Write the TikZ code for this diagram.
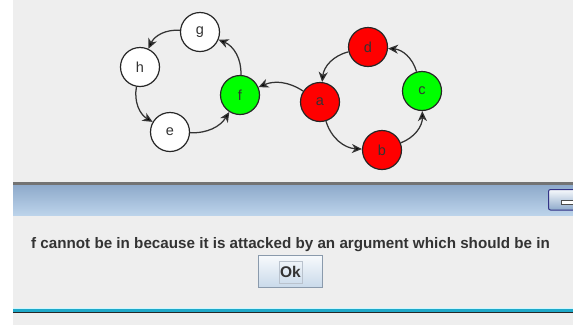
\documentclass[tikz,border=0pt]{standalone}
\usepackage{fontspec}
\setmainfont{Liberation Sans}
\usepackage{xcolor}
\usetikzlibrary{arrows.meta, shapes}
\definecolor{panelgray}{HTML}{EEEEEE}
\definecolor{bartop}{HTML}{8EAACB}
\definecolor{barbottom}{HTML}{BCD3EA}
\definecolor{btnedge}{HTML}{8A9AAC}
\definecolor{btntop}{HTML}{F7F9FC}
\definecolor{btnbottom}{HTML}{C9D9EA}
\definecolor{msgtext}{HTML}{333333}
\definecolor{seacyan}{HTML}{1EA8C8}
\tikzset{
    arg/.style={
        circle,
        draw=black!85,
        line width=1.2pt,
        fill=white,
        minimum size=39pt,
        inner sep=0pt,
        text=black!80,
        font=\fontsize{14.5}{16}\selectfont,
    },
    argin/.style={
        arg,
        fill=green,
    },
    argout/.style={
        arg,
        fill=red,
    },
}

\begin{document}
\begin{tikzpicture}[x=1pt, y=-1pt, >={Stealth[length=10pt, width=9pt, inset=3pt]}, line width=1.25pt]
      \useasboundingbox (0,0) rectangle (573,325);
      \clip (0,0) rectangle (573,325);
      % window background
      \fill[white] (0,0) rectangle (573,325);
      \fill[panelgray] (13,0) rectangle (573,325);

      % the argument graph
      \node [arg] (g) at (200,32) {g};
      \node [arg] (h) at (140,67) {h};
      \node [arg] (e) at (170,132) {e};
      \node [argin] (f) at (240,95) {f};
      \node [argout] (a) at (320,102) {a};
      \node [argout] (d) at (368,47) {d};
      \node [argin] (c) at (422,91) {c};
      \node [argout] (b) at (382,150) {b};

      \path[->, draw=black!80] (f) edge [bend right=35] (g);
      \path[->, draw=black!80] (g) edge [bend right=35] (h);
      \path[->, draw=black!80] (h) edge [bend right=35] (e);
      \path[->, draw=black!80] (e) edge [bend right=30] (f);
      \path[->, draw=black!80] (a) edge [bend right=28] (f);
      \path[->, draw=black!80] (a) edge [bend right=35] (b);
      \path[->, draw=black!80] (b) edge [bend right=35] (c);
      \path[->, draw=black!80] (c) edge [bend right=35] (d);
      \path[->, draw=black!80] (d) edge [bend right=35] (a);

      % dialog frame
      \fill[black!55] (13,182) rectangle (573,185);
      \shade[top color=bartop, bottom color=barbottom] (13,185) rectangle (573,215);
      \draw[line width=1pt, draw=black!45!blue!60!gray, top color=btntop, bottom color=bartop, rounded corners=2pt] (548.5,189.5) rectangle (585,210);
      \draw[line width=0.8pt, draw=black!70, fill=white] (561,200) rectangle (580,204);

      % message and button
      \node [font=\bfseries\fontsize{15.2}{18}\selectfont, text=msgtext] (msg) at (290.5,244.5) {f cannot be in because it is attacked by an argument which should be in};
      \draw[line width=1pt, draw=btnedge, top color=btntop, bottom color=btnbottom] (258.5,255.5) rectangle (322.5,287.5);
      \node [draw=btnedge!60, line width=0.6pt, minimum width=23pt, minimum height=22pt, inner sep=0pt, font=\bfseries\fontsize{15.5}{18}\selectfont, text=msgtext] (ok) at (290.5,272) {Ok};

      % bottom edge
      \fill[blue!15!cyan!20] (13,307.5) rectangle (573,309);
      \fill[seacyan] (13,309) rectangle (573,311.5);
      \fill[black!85] (13,311.5) rectangle (573,313);
\end{tikzpicture}
\end{document}
